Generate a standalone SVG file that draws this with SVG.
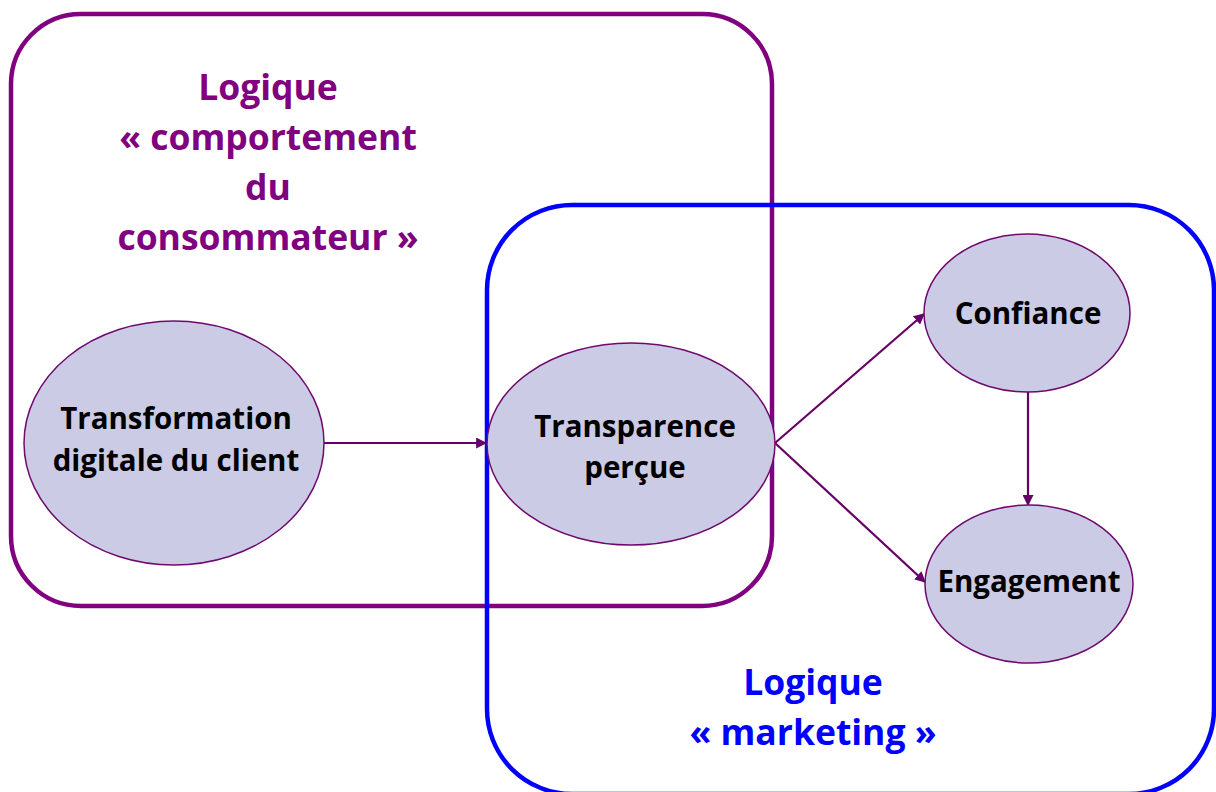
<svg xmlns="http://www.w3.org/2000/svg" width="1216" height="792" viewBox="0 0 1216 792">
<defs>
<style>
.box{fill:none;stroke-width:4.5}
.node{fill:#CBCBE6;stroke:#6E0A6E;stroke-width:1.5}
.lbl{font-family:"Open Sans",Lato,sans-serif;font-weight:bold;font-size:29.5px;fill:#000;text-anchor:middle;font-variant-ligatures:none}
.title{font-family:"Open Sans",Lato,sans-serif;font-weight:bold;font-size:35.5px;text-anchor:middle;font-variant-ligatures:none}
.conn{stroke:#660066;stroke-width:2.2;fill:none;marker-end:url(#ah)}
</style>
<marker id="ah" viewBox="0 0 10 10" refX="9" refY="5" markerWidth="5" markerHeight="5" orient="auto" markerUnits="strokeWidth">
<path d="M0,0 L10,5 L0,10 z" fill="#660066"/>
</marker>
</defs>
<rect width="1216" height="792" fill="#fff"/>
<g id="box-comportement">
<rect class="box" x="11" y="14" width="761" height="592" rx="70" ry="70" stroke="#800080"/>
<text class="title" fill="#800080" x="268" y="100">Logique</text>
<text class="title" fill="#800080" x="268" y="150">« comportement</text>
<text class="title" fill="#800080" x="268" y="200">du</text>
<text class="title" fill="#800080" x="268" y="250">consommateur »</text>
</g>
<g id="box-marketing">
<rect class="box" x="487" y="205" width="727" height="589" rx="85" ry="85" stroke="#0000FF"/>
<text class="title" fill="#0000FF" x="813" y="695">Logique</text>
<text class="title" fill="#0000FF" x="813" y="745">« marketing »</text>
</g>
<g id="connectors">
<line class="conn" x1="324" y1="443" x2="486" y2="443"/>
<line class="conn" x1="775" y1="443" x2="924" y2="314"/>
<line class="conn" x1="775" y1="443" x2="925" y2="582"/>
<line class="conn" x1="1028" y1="392" x2="1028" y2="505"/>
</g>
<g id="node-transformation">
<ellipse class="node" cx="174" cy="443" rx="150" ry="122"/>
<text class="lbl" x="176" y="429">Transformation</text>
<text class="lbl" x="176" y="471">digitale du client</text>
</g>
<g id="node-transparence">
<ellipse class="node" cx="631" cy="444" rx="144" ry="101"/>
<text class="lbl" x="635" y="437">Transparence</text>
<text class="lbl" x="635" y="478">perçue</text>
</g>
<g id="node-confiance">
<ellipse class="node" cx="1027" cy="313" rx="103" ry="79"/>
<text class="lbl" x="1028" y="324">Confiance</text>
</g>
<g id="node-engagement">
<ellipse class="node" cx="1029" cy="584" rx="104" ry="79"/>
<text class="lbl" x="1029" y="592">Engagement</text>
</g>
</svg>
